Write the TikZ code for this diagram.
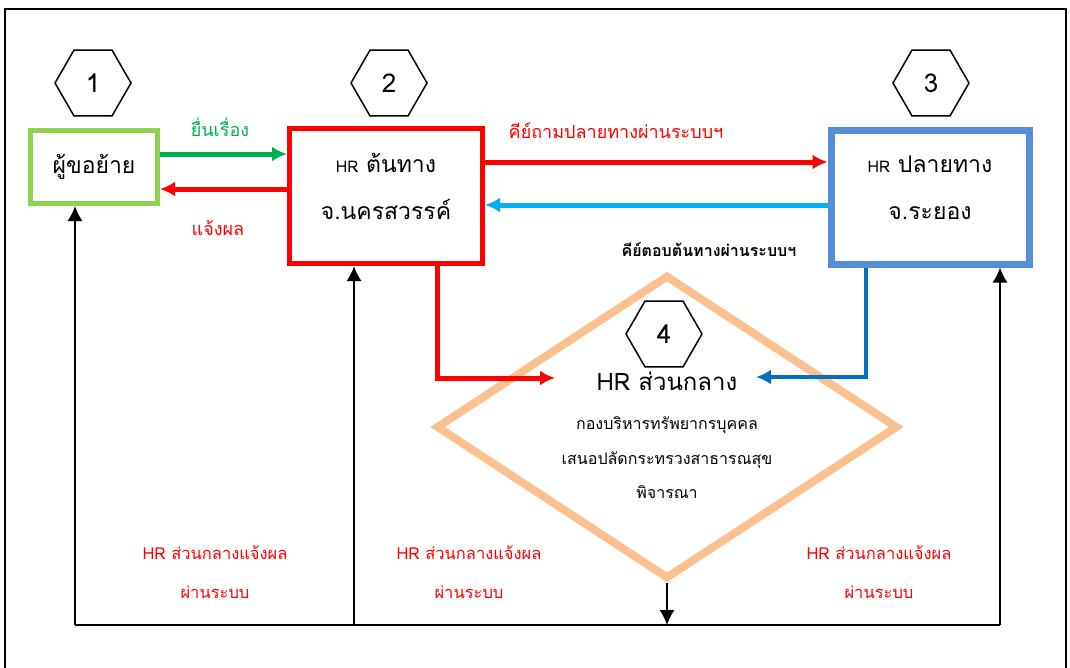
\documentclass[tikz,border=0pt]{standalone}
\usepackage{fontspec}
\setmainfont[Script=Thai]{Loma}
\usetikzlibrary{shapes.geometric,arrows.meta}

\definecolor{boxgreen}{HTML}{92D050}
\definecolor{flowgreen}{HTML}{00B050}
\definecolor{flowcyan}{HTML}{00B0F0}
\definecolor{boxblue}{HTML}{558ED5}
\definecolor{flowblue}{HTML}{0070C0}
\definecolor{dmdorange}{HTML}{FAC090}

\begin{document}
\begin{tikzpicture}[
    x=1pt, y=-1pt,
    hexnum/.style={regular polygon, regular polygon sides=6, draw, line width=1.5pt, minimum size=76pt, inner sep=0pt, font=\fontsize{26}{26}\selectfont},
    procbox/.style={rectangle, draw, align=center, inner sep=0pt, font=\fontsize{23}{47}\selectfont},
    flow/.style={line width=5pt, -{Latex[length=15pt,width=15pt]}},
    bus/.style={line width=1.5pt},
    busarrow/.style={line width=1.5pt, -{Latex[length=15pt,width=15pt]}},
    flowlbl/.style={font=\fontsize{18}{20}\selectfont},
    notelbl/.style={font=\fontsize{16.5}{39}\selectfont, text=red, align=center}
]
    \useasboundingbox (0,0) rectangle (1070,667);
    \draw[line width=1.5pt] (5,9) rectangle (1066,700);

    % step numbers
    \node[hexnum] (hex1) at (93,83) {1};
    \node[hexnum] (hex2) at (389,83) {2};
    \node[hexnum] (hex3) at (931,83) {3};

    % offices
    \node[procbox, draw=boxgreen, line width=5pt, minimum width=127pt, minimum height=73pt] (applicant) at (94,167) {ผู้ขอย้าย};
    \node[procbox, draw=red, line width=5pt, minimum width=193pt, minimum height=135pt, text depth=19pt] (srcHR) at (386,196) {{\fontsize{16}{16}\selectfont HR} ต้นทาง\\จ.นครสวรรค์};
    \node[procbox, draw=boxblue, line width=7pt, minimum width=198pt, minimum height=134pt, text depth=19pt] (dstHR) at (930,197) {{\fontsize{16}{16}\selectfont HR} ปลายทาง\\จ.ระยอง};

    % central HR
    \node[diamond, draw=dmdorange, line width=8pt, minimum width=462pt, minimum height=304pt, inner sep=0pt] (review) at (667,427) {};
    \node[hexnum] (hex4) at (664,334) {4};
    \node[font=\fontsize{24}{24}\selectfont] (central) at (667,381) {HR ส่วนกลาง};
    \node[font=\fontsize{16}{34.5}\selectfont, align=center] (centraldesc) at (667,458) {กองบริหารทรัพยากรบุคคล\\เสนอปลัดกระทรวงสาธารณสุข\\พิจารณา};

    % flows between offices
    \coordinate (redturn) at (437,378);
    \coordinate (redend) at (555,378);
    \coordinate (blueturn) at (866,377);
    \coordinate (blueend) at (756,377);
    \draw[flow, flowgreen] (applicant.east |- 0,154) -- (srcHR.west |- 0,154);
    \draw[flow, red] (srcHR.west |- 0,189) -- (applicant.east |- 0,189);
    \draw[flow, red] (srcHR.east |- 0,162) -- (dstHR.west |- 0,162);
    \draw[flow, flowcyan] (dstHR.west |- 0,205) -- (srcHR.east |- 0,205);
    \draw[flow, red] (srcHR.south -| redturn) -- (redturn) -- (redend);
    \draw[flow, flowblue, line width=4pt] (dstHR.south -| blueturn) -- (blueturn) -- (blueend);

    \node[flowlbl, text=flowgreen] (lblsubmit) at (220,127) {ยื่นเรื่อง};
    \node[flowlbl, text=red] (lblreply) at (218,228) {แจ้งผล};
    \node[flowlbl, text=red] (lblask) at (616,131) {คีย์ถามปลายทางผ่านระบบฯ};
    \node[font=\fontsize{16}{20}\selectfont\bfseries] (lblanswer) at (709,250) {คีย์ตอบต้นทางผ่านระบบฯ};

    % results back through the system
    \coordinate (bus1) at (75,625);
    \coordinate (bus2) at (354,625);
    \coordinate (bus3) at (1000,625);
    \draw[bus] (bus1) -- (bus3);
    \draw[busarrow] (bus1) -- (bus1 |- applicant.south);
    \draw[busarrow] (bus2) -- (bus2 |- srcHR.south);
    \draw[busarrow] (bus3) -- (bus3 |- dstHR.south);
    \draw[busarrow] (review.south) -- (review.south |- bus1);

    \node[notelbl] (note1) at (215,572) {HR ส่วนกลางแจ้งผล\\ผ่านระบบ};
    \node[notelbl] (note2) at (469,572) {HR ส่วนกลางแจ้งผล\\ผ่านระบบ};
    \node[notelbl] (note3) at (879,572) {HR ส่วนกลางแจ้งผล\\ผ่านระบบ};
\end{tikzpicture}
\end{document}
